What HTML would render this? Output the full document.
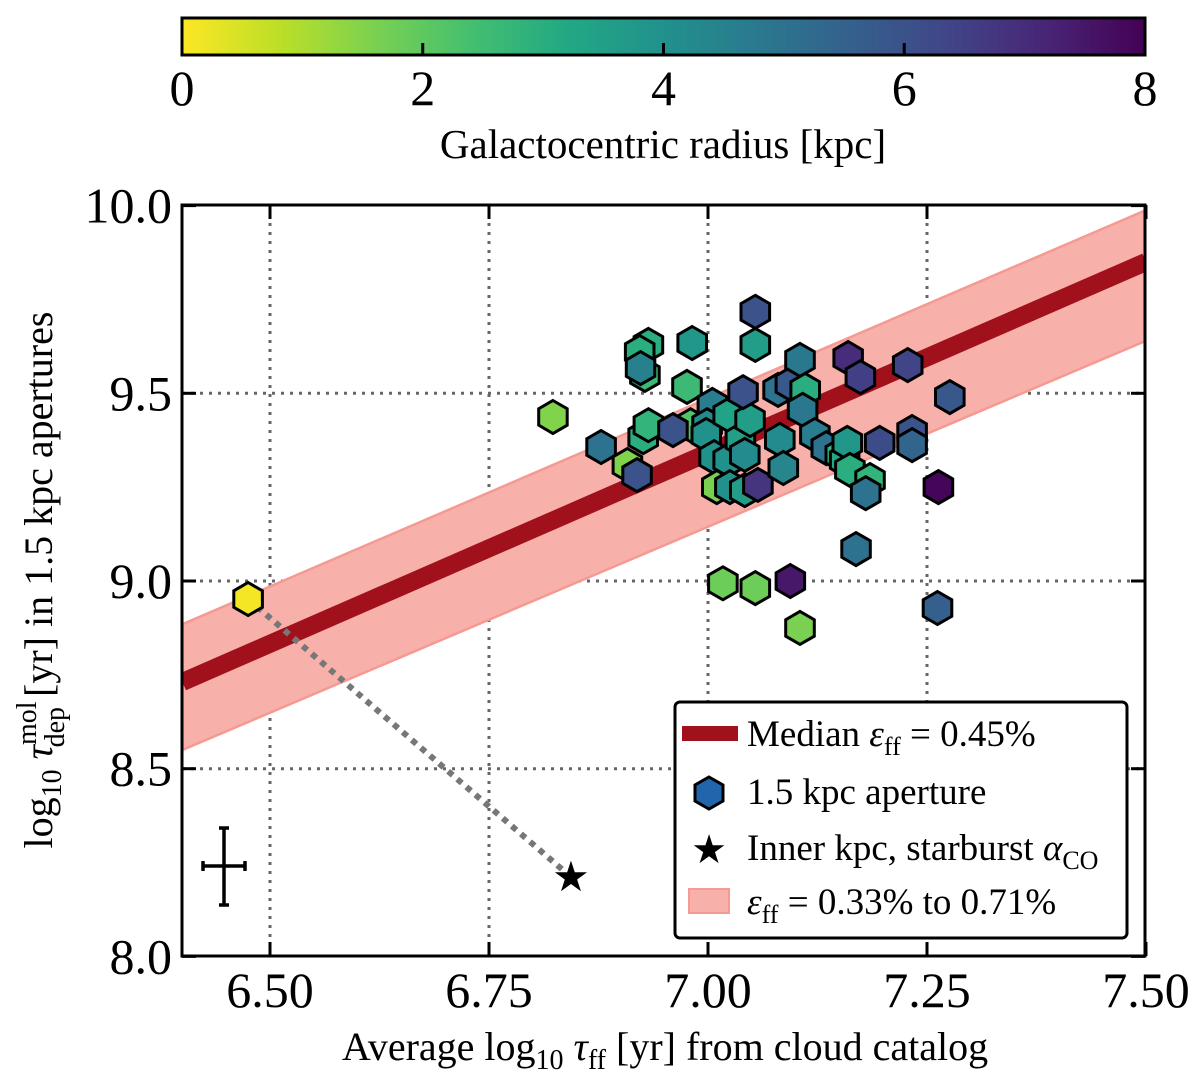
<!DOCTYPE html>
<html><head><meta charset="utf-8"><style>
body{margin:0;background:#fff}
svg text{font-family:"Liberation Serif",serif;fill:#000}
</style></head><body>
<svg id="chart" width="1200" height="1072" viewBox="0 0 1200 1072">
<defs>
<linearGradient id="cmap" x1="0" x2="1" y1="0" y2="0">
<stop offset="0" stop-color="#fde725"/><stop offset="0.1" stop-color="#bddf26"/><stop offset="0.2" stop-color="#7ad151"/><stop offset="0.3" stop-color="#44bf70"/><stop offset="0.4" stop-color="#22a884"/><stop offset="0.5" stop-color="#21918c"/><stop offset="0.6" stop-color="#2a788e"/><stop offset="0.7" stop-color="#355f8d"/><stop offset="0.8" stop-color="#414487"/><stop offset="0.9" stop-color="#482475"/><stop offset="1" stop-color="#440154"/>
</linearGradient>
<clipPath id="plotclip"><rect x="182" y="205" width="963" height="751"/></clipPath>
</defs>
<rect x="182" y="18" width="963" height="37" fill="url(#cmap)" stroke="#000" stroke-width="3"/>
<g id="cbticks"></g>
<text x="663" y="158" font-size="41" text-anchor="middle">Galactocentric radius [kpc]</text>
<g id="grid"></g>
<g id="band" clip-path="url(#plotclip)"></g>
<g id="dotline"></g>
<g id="points" clip-path="url(#plotclip)"></g>
<rect x="182" y="205" width="963" height="751" fill="none" stroke="#000" stroke-width="3"/>
<g id="ticks"></g>
<g stroke="#000" stroke-width="3.5">
<line x1="203" y1="866" x2="245" y2="866"/><line x1="224" y1="828" x2="224" y2="905"/>
<line x1="219" y1="828" x2="229" y2="828"/><line x1="219" y1="905" x2="229" y2="905"/>
<line x1="203" y1="861" x2="203" y2="871"/><line x1="245" y1="861" x2="245" y2="871"/>
</g>
<text x="665" y="1060" font-size="40" text-anchor="middle">Average log<tspan font-size="28" dy="9">10</tspan><tspan dy="-9" font-style="italic"> τ</tspan><tspan font-size="28" dy="9">ff</tspan><tspan dy="-9"> [yr] from cloud catalog</tspan></text>
<text transform="translate(52,580) rotate(-90)" font-size="40" text-anchor="middle">log<tspan font-size="28" dy="9">10</tspan><tspan dy="-9" font-style="italic"> τ</tspan><tspan font-size="28" dy="-16">mol</tspan><tspan font-size="28" dx="-46" dy="28">dep</tspan><tspan dy="-12"> [yr] in 1.5 kpc apertures</tspan></text>
<g>
<rect x="675" y="702" width="452" height="236" rx="5" fill="#fff" stroke="#000" stroke-width="3"/>
<rect x="682" y="726" width="56" height="15" fill="#a0111c"/>
<text x="747" y="746" font-size="37">Median <tspan font-style="italic">ε</tspan><tspan font-size="26" dy="9">ff</tspan><tspan dy="-9"> = 0.45%</tspan></text>
<polygon points="709,777 723,785 723,801 709,809 695,801 695,785" fill="#2166ac" stroke="#000" stroke-width="3"/>
<text x="747" y="804" font-size="37">1.5 kpc aperture</text>
<text x="709" y="863" font-size="40" text-anchor="middle">★</text>
<text x="747" y="860" font-size="37">Inner kpc, starburst <tspan font-style="italic">α</tspan><tspan font-size="26" dy="9">CO</tspan></text>
<rect x="689" y="889" width="40" height="24" fill="#f8b0ab" stroke="#f59a93" stroke-width="2"/>
<text x="747" y="914" font-size="37"><tspan font-style="italic">ε</tspan><tspan font-size="26" dy="9">ff</tspan><tspan dy="-9"> = 0.33% to 0.71%</tspan></text>
</g>
</svg>
<script>
const logTff=[6.475,6.823,6.932,6.922,6.928,6.923,6.982,7.054,7.054,6.878,6.908,6.919,6.926,6.932,6.976,6.980,6.960,7.005,6.999,6.998,7.007,7.023,7.023,7.037,7.048,7.040,7.080,7.094,7.105,7.111,7.108,7.122,7.135,7.151,7.156,7.160,7.174,7.228,7.276,7.233,7.233,7.196,7.159,7.162,7.185,7.180,7.263,7.010,7.025,7.042,7.057,7.042,7.082,7.086,7.169,7.017,7.054,7.094,7.105,7.262];
const logTdep=[8.952,9.437,9.629,9.610,9.549,9.567,9.634,9.717,9.629,9.357,9.309,9.282,9.383,9.415,9.517,9.415,9.402,9.469,9.415,9.389,9.330,9.442,9.322,9.376,9.429,9.503,9.509,9.525,9.589,9.509,9.456,9.389,9.354,9.336,9.322,9.594,9.543,9.575,9.490,9.397,9.362,9.368,9.368,9.296,9.269,9.234,9.250,9.250,9.250,9.242,9.256,9.336,9.376,9.301,9.085,8.994,8.981,9.000,8.875,8.928];
const radius=[0.1,1.5,3.0,3.0,2.6,4.5,3.8,6.0,3.6,5.0,1.5,6.0,3.0,2.8,2.6,2.2,6.0,4.6,4.2,4.0,4.0,3.4,4.0,3.5,3.6,6.0,5.0,5.8,4.8,3.0,4.8,4.6,5.0,2.8,3.2,7.0,6.5,6.4,5.8,6.0,5.4,6.2,3.8,3.0,2.8,5.0,7.9,1.6,4.0,3.6,6.8,4.2,4.2,4.4,5.0,1.8,1.8,7.5,1.6,5.6];
const starPoint=[6.8436,8.2115];
const medianLine=[[6.4,8.731],[7.5,9.85]];
const bandUpper=[[6.4,8.885],[7.5,9.988]];
const bandLower=[[6.4,8.55],[7.5,9.64]];
const xTicks=[6.50,6.75,7.00,7.25,7.50];
const xTickLabels=["6.50","6.75","7.00","7.25","7.50"];
const yTicks=[8.0,8.5,9.0,9.5,10.0];
const yTickLabels=["8.0","8.5","9.0","9.5","10.0"];
const cbTicks=[0,2,4,6,8];

const NS="http://www.w3.org/2000/svg";
const X=v=>182.4+(v-6.4)*876;
const Y=v=>205.6+(10-v)*375.4;
const CB=v=>182+v/8*963;
function mk(tag,attrs,parent){const e=document.createElementNS(NS,tag);for(const k in attrs)e.setAttribute(k,attrs[k]);parent.appendChild(e);return e;}
const stops=[[253,231,37],[189,223,38],[122,209,81],[68,191,112],[34,168,132],[33,145,140],[42,120,142],[53,95,141],[65,68,135],[72,36,117],[68,1,84]];
function color(r){let t=Math.max(0,Math.min(1,r/8))*10;let i=Math.min(9,Math.floor(t));let f=t-i;const a=stops[i],b=stops[i+1];return `rgb(${a.map((c,k)=>Math.round(c+(b[k]-c)*f)).join(',')})`;}

const grid=document.getElementById('grid');
xTicks.forEach(v=>{if(v<7.5){const l=mk('line',{x1:X(v),x2:X(v),y1:205,y2:956,stroke:'#666','stroke-width':3,'stroke-dasharray':'3 6'},grid);

}});
yTicks.forEach(v=>{if(v>8&&v<10){const l=mk('line',{x1:182,x2:1145,y1:Y(v),y2:Y(v),stroke:'#666','stroke-width':3,'stroke-dasharray':'3 6'},grid);

}});

const band=document.getElementById('band');
const bp=mk('polygon',{points:[...bandUpper,...bandLower.slice().reverse()].map(p=>X(p[0])+','+Y(p[1])).join(' '),fill:'#f8b0ab',stroke:'#f59a93','stroke-width':2.5},band);


const ml=mk('line',{x1:X(medianLine[0][0]),y1:Y(medianLine[0][1]),x2:X(medianLine[1][0]),y2:Y(medianLine[1][1]),stroke:'#a0111c','stroke-width':18},band);



const dl=document.getElementById('dotline');
const dll=mk('line',{x1:X(logTff[0]),y1:Y(logTdep[0]),x2:X(starPoint[0]),y2:Y(starPoint[1]),stroke:'#777','stroke-width':6,'stroke-dasharray':'6 6'},dl);



const pts=document.getElementById('points');
const R=16.5;
for(let i=0;i<logTff.length;i++){
  const cx=X(logTff[i]),cy=Y(logTdep[i]);
  const p=[];for(let k=0;k<6;k++){const a=Math.PI/3*k-Math.PI/2;p.push((cx+R*Math.cos(a)).toFixed(1)+','+(cy+R*Math.sin(a)).toFixed(1));}
  const h=mk('polygon',{points:p.join(' '),fill:color(radius[i]),stroke:'#000','stroke-width':3},pts);
  
  
}
const st=mk('text',{x:X(starPoint[0]),y:Y(starPoint[1])+14,'font-size':42,'text-anchor':'middle'},pts);
st.textContent='★';



const tk=document.getElementById('ticks');
xTicks.forEach((v,i)=>{
  mk('line',{x1:X(v),x2:X(v),y1:956,y2:942,stroke:'#000','stroke-width':3},tk);
  mk('line',{x1:X(v),x2:X(v),y1:205,y2:219,stroke:'#000','stroke-width':3},tk);
  const t=mk('text',{x:X(v),y:1007,'font-size':50,'text-anchor':'middle'},tk);t.textContent=xTickLabels[i];
  
  
});
yTicks.forEach((v,i)=>{
  mk('line',{x1:182,x2:196,y1:Y(v),y2:Y(v),stroke:'#000','stroke-width':3},tk);
  mk('line',{x1:1131,x2:1145,y1:Y(v),y2:Y(v),stroke:'#000','stroke-width':3},tk);
  const t=mk('text',{x:172,y:Y(v)+17,'font-size':50,'text-anchor':'end'},tk);t.textContent=yTickLabels[i];
  
  
});
const cbt=document.getElementById('cbticks');
cbTicks.forEach(v=>{
  mk('line',{x1:CB(v),x2:CB(v),y1:55,y2:43,stroke:'#000','stroke-width':3},cbt);
  const t=mk('text',{x:CB(v),y:105,'font-size':50,'text-anchor':'middle'},cbt);t.textContent=String(v);
  
  
});
</script>
</body></html>
